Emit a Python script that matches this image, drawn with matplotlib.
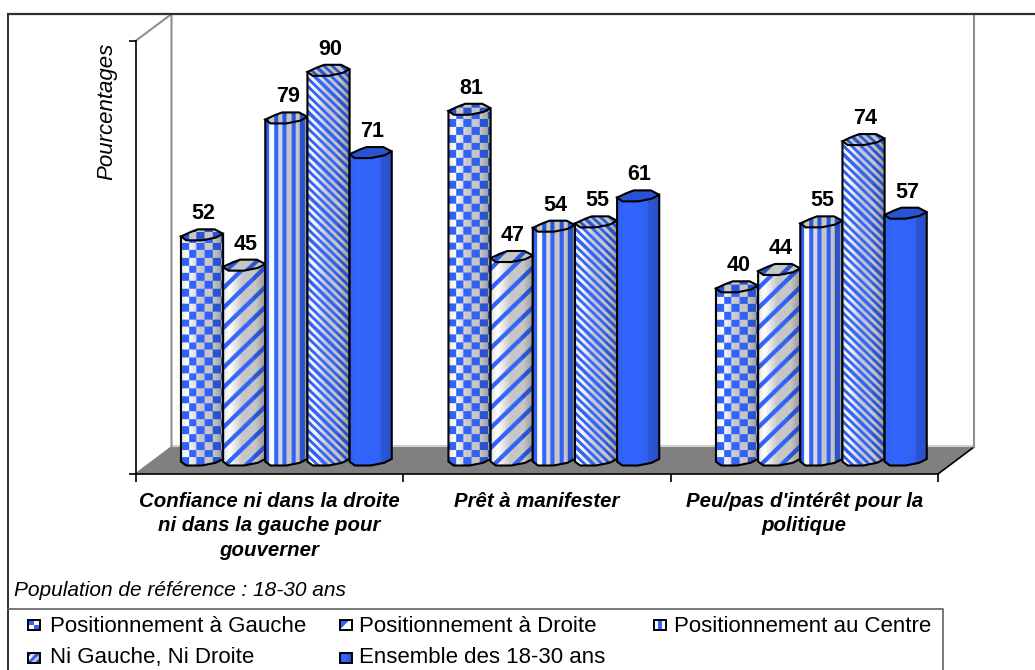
import numpy as np
import matplotlib
matplotlib.use('Agg')
# flake8: noqa pylint: disable=wrong-import-position
import matplotlib.pyplot as plt
from matplotlib.patches import Polygon

plt.rcParams['font.family'] = ['Liberation Sans', 'DejaVu Sans']

categories = ['Confiance ni dans la droite\nni dans la gauche pour\ngouverner',
              'Prêt à manifester',
              "Peu/pas d'intérêt pour la\npolitique"]
series_names = ['Positionnement à Gauche', 'Positionnement à Droite',
                'Positionnement au Centre', 'Ni Gauche, Ni Droite',
                'Ensemble des 18-30 ans']
gauche = [52, 81, 40]
droite = [45, 47, 44]
centre = [79, 54, 55]
ni_ni = [90, 55, 74]
ensemble = [71, 61, 57]
y_title = 'Pourcentages'
note = 'Population de référence : 18-30 ans'

W, H = 1035, 670
BLUE = np.array([0.2, 0.4, 1.0])
PATTERNS = ['checker', 'rising', 'vertical', 'falling', 'solid']
# px per percent
K = 4.33
BAR_W = 42.2 / 267.75
CAP = 5.5 / K
# irregular octagon of the bar tops, unit coordinates
CAP_SHAPE = [(-1, -.3), (-.55, .5), (-.2, 1), (.6, 1), (1, .2), (.65, -.5), (0, -1), (-.75, -1)]


def pattern_mask(kind, px, py):
    if kind == 'checker':
        return ((px // 7.7 + py // 7.7) % 2) == 0
    if kind == 'rising':
        return ((px - py) % 20) < 6
    if kind == 'vertical':
        return (px % 8.6) < 4.3
    if kind == 'falling':
        return ((px + py) % 8.4) < 4.2
    return np.ones_like(px, dtype=bool)


def texture(kind, w, h, flat=False):
    px, py = np.meshgrid(np.arange(w) + .5, np.arange(h) + .5)
    u = px / w
    if flat:
        light = np.full_like(u, .78)
        blue = np.full_like(u, .82)
    else:
        light = np.interp(u, [0, .15, .45, .75, 1], [.88, 1, .78, .78, .58])
        blue = np.interp(u, [0, .3, .7, .72, 1], [.95, 1, .96, .84, .78])
    img = light[..., None] * np.ones(3)
    mask = pattern_mask(kind, px, py)
    img[mask] = (blue[..., None] * BLUE)[mask]
    return img


def draw_bar(ax, x, v, kind, z):
    hw = BAR_W / 2
    top = [(x - hw, v - .3 * CAP), (x + hw, v + .2 * CAP)]
    bottom = [(x + sx * hw, sy * CAP) for sx, sy in CAP_SHAPE[4:] + CAP_SHAPE[:1]]
    body = Polygon(top + bottom, closed=True, fc='none', ec='black', lw=1.5, zorder=z + .2, clip_on=False)
    ax.add_patch(body)
    h_px = int((v + 2 * CAP) * K) + 2
    im = ax.imshow(texture(kind, 42, h_px), extent=[x - hw, x + hw, -CAP, v + CAP], origin='lower',
                   aspect='auto', zorder=z, interpolation='bilinear')
    im.set_clip_path(body)
    cap = Polygon([(x + sx * hw, v + sy * CAP) for sx, sy in CAP_SHAPE], closed=True, fc='none',
                  ec='black', lw=1.5, zorder=z + .4, clip_on=False)
    ax.add_patch(cap)
    im2 = ax.imshow(texture(kind, 42, 12, flat=True), extent=[x - hw, x + hw, v - CAP, v + CAP],
                    origin='lower', aspect='auto', zorder=z + .3, interpolation='bilinear')
    im2.set_clip_path(cap)
    ax.text(x + .005, v + 21 / K, str(v), ha='center', va='center', fontsize=15.5, fontweight='bold', zorder=50)


fig = plt.figure(figsize=(W / 100, H / 100), dpi=100, facecolor='white')

# page furniture, in pixels
bg = fig.add_axes([0, 0, 1, 1], zorder=0)
bg.axis('off')

bg.add_patch(Polygon([(135.5, 474), (171.5, 447), (974, 447), (938, 474)], fc='#808080', ec='none'))
bg.plot([171.5, 974], [446, 446], color='#d0d0d0', lw=1.5)
bg.plot([135.5, 171.5], [474, 447], color='#808080', lw=1.2)
bg.plot([974, 938], [447, 474], color='black', lw=1.2)
bg.plot([135.5, 171.5, 171.5], [41, 14, 447], color='#909090', lw=1.5)
bg.plot([974, 974], [14, 447], color='#909090', lw=1.5)
bg.plot([8, 8], [14, 670], color='#303030', lw=1.4)
bg.plot([8, 1035], [14, 14], color='#303030', lw=1.6)
bg.plot([8, 943, 943], [609, 609, 670], color='#606060', lw=1.2)

bg.text(14, 596, note, fontsize=15, style='italic', va='baseline')
bg.text(107, 111, y_title, fontsize=16, style='italic', rotation=90, ha='center', va='center')

legend_x = [(28, 50), (340, 359), (654, 674), (28, 50), (340, 359)]
legend_y = [625, 625, 625, 658, 658]
legend_base = [632, 632, 632, 663, 663]
for name, kind, (sx, tx), ly, lb in zip(series_names, PATTERNS, legend_x, legend_y, legend_base):
    tex = texture(kind, 12, 10, flat=False)
    if kind == 'checker':
        tex[:] = 1
        tex[:5, :6] = BLUE
        tex[5:, 6:] = BLUE
    if kind == 'rising':
        tex[:] = 1
        for i in range(10):
            tex[i, :9 - i] = BLUE
    if kind == 'vertical':
        tex[:] = 1
        tex[:, 4:8] = BLUE
    bg.imshow(tex, extent=[sx, sx + 12, ly + 5, ly - 5], aspect='auto', zorder=3)
    bg.add_patch(plt.Rectangle((sx, ly - 5), 12, 10, fc='none', ec='black', lw=1.4, zorder=4))
    bg.text(tx, lb, name, fontsize=16, va='baseline', color='black')

bg.set_xlim(0, W)
bg.set_ylim(H, 0)

# the chart itself: percent on y, categories on x
left, right, base, roof = 135.5, 938, 474, 41
ax = fig.add_axes([left / W, 1 - base / H, (right - left) / W, (base - roof) / H], zorder=2)
ax.patch.set_alpha(0)
for s in ['top', 'right']:
    ax.spines[s].set_visible(False)
for s in ['left', 'bottom']:
    ax.spines[s].set_linewidth(1.2)

x_lo = (left - 286.5) / 267.75
x_hi = (right - 286.5) / 267.75
y_lo = -(base - 460) / K
y_hi = (460 - roof) / K

groups = [gauche, droite, centre, ni_ni, ensemble]
for i, (vals, kind) in enumerate(zip(groups, PATTERNS)):
    for c, v in enumerate(vals):
        draw_bar(ax, c + (i - 2) * BAR_W, v, kind, 5 + i)

ax.set_xlim(x_lo, x_hi)
ax.set_ylim(y_lo, y_hi)
ax.set_yticks([y_lo, y_hi])
ax.set_yticklabels([])
ax.tick_params(axis='y', length=5, width=1.2)
# labels sit mid-way between the front ticks, the bars are pushed back by the 3D offset
ax.set_xticks(x_lo + .5 + np.arange(len(categories)))
ax.set_xticklabels(categories, fontsize=14.7, fontweight='bold', style='italic', linespacing=1.35)
ax.tick_params(axis='x', which='major', length=0, pad=13)
ax.set_xticks(x_lo + np.arange(len(categories) + 1), minor=True)
ax.tick_params(axis='x', which='minor', length=6, width=1.2)

fig.savefig('out.png', dpi=100)
